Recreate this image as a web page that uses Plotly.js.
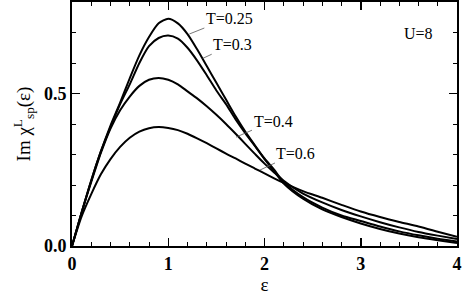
<!DOCTYPE html>
<html>
<head>
<meta charset="utf-8">
<script src="https://cdn.plot.ly/plotly-3.0.1.min.js"></script>
<style>html,body{margin:0;padding:0;background:#fff;}#chart{width:463px;height:296px;}</style>
</head>
<body>
<div id="chart"></div>
<script>
const eps = [0,0.1,0.2,0.3,0.4,0.5,0.6,0.7,0.8,0.9,1.0,1.1,1.2,1.3,1.4,1.5,1.6,1.7,1.8,1.9,2.0,2.1,2.2,2.4,2.6,2.8,3.0,3.2,3.4,3.6,3.8,4.0];
const chiT025 = [0,0.11,0.215,0.31,0.395,0.47,0.55,0.625,0.685,0.73,0.745,0.73,0.695,0.645,0.59,0.535,0.48,0.425,0.375,0.33,0.285,0.245,0.205,0.155,0.12,0.095,0.074,0.056,0.041,0.029,0.019,0.010];
const chiT03  = [0,0.11,0.215,0.31,0.39,0.465,0.53,0.60,0.655,0.682,0.69,0.68,0.65,0.608,0.56,0.51,0.465,0.415,0.37,0.328,0.287,0.25,0.21,0.16,0.126,0.10,0.082,0.064,0.048,0.035,0.024,0.015];
const chiT04  = [0,0.11,0.21,0.305,0.385,0.445,0.49,0.525,0.545,0.551,0.545,0.53,0.507,0.484,0.458,0.43,0.40,0.368,0.335,0.302,0.27,0.241,0.214,0.172,0.143,0.118,0.097,0.078,0.061,0.046,0.034,0.023];
const chiT06  = [0,0.097,0.17,0.235,0.285,0.325,0.355,0.375,0.386,0.39,0.387,0.38,0.368,0.353,0.337,0.32,0.303,0.287,0.27,0.254,0.238,0.222,0.207,0.18,0.158,0.135,0.113,0.095,0.079,0.064,0.047,0.030];
const seriesNames = ['T=0.25','T=0.3','T=0.4','T=0.6'];
const xTickVals = [0,1,2,3,4];
const xTickText = ['0','1','2','3','4'];
const yTickVals = [0,0.5];
const yTickText = ['0.0','0.5'];

const serif = 'Liberation Serif';
const allY = [chiT025, chiT03, chiT04, chiT06];
const traces = allY.map((ys, i) => ({
  x: eps, y: ys, type: 'scatter', mode: 'lines', name: seriesNames[i],
  line: {color: '#000', width: 2, shape: 'spline', smoothing: 0.7}
}));

const labelDefs = [
  {text: 'T=0.25', x: 1.219, y: 0.695, ax: 40, ay: -16},
  {text: 'T=0.3', x: 1.358, y: 0.615, ax: 30, ay: -14},
  {text: 'T=0.4', x: 1.704, y: 0.357, ax: 37, ay: -16},
  {text: 'T=0.6', x: 1.953, y: 0.249, ax: 36, ay: -17}
];
const annotations = labelDefs.map(d => ({
  text: d.text, x: d.x, y: d.y, xref: 'x', yref: 'y', ax: d.ax, ay: d.ay,
  showarrow: true, arrowhead: 0, arrowwidth: 0.8, arrowcolor: '#555',
  font: {family: serif, size: 16, color: '#000'}
}));
annotations.push({text: 'U=8', x: 3.595, y: 0.698, xref: 'x', yref: 'y', showarrow: false,
  font: {family: serif, size: 16, color: '#000'}});

const axisCommon = {
  showline: true, linecolor: '#000', linewidth: 2, mirror: 'allticks',
  ticks: 'inside', ticklen: 8, tickwidth: 1.5, tickcolor: '#000',
  showgrid: false, zeroline: false,
  tickfont: {family: serif, size: 18, color: '#000', weight: 'bold'}
};

const layout = {
  width: 463, height: 296,
  margin: {l: 72, r: 6, t: 2, b: 50},
  paper_bgcolor: '#fff', plot_bgcolor: '#fff',
  showlegend: false,
  xaxis: Object.assign({}, axisCommon, {
    range: [0, 4], tickvals: xTickVals, ticktext: xTickText,
    minor: {dtick: 0.2, ticks: 'inside', ticklen: 4, tickwidth: 1, tickcolor: '#000'},
    title: {text: 'ε', font: {family: serif, size: 19, color: '#000'}, standoff: 4}
  }),
  yaxis: Object.assign({}, axisCommon, {
    range: [0, 0.8], tickvals: yTickVals, ticktext: yTickText,
    minor: {dtick: 0.1, ticks: 'inside', ticklen: 4, tickwidth: 1, tickcolor: '#000'},
    title: {text: 'Im χ<sup>L</sup><sub>sp</sub>(ε)', font: {family: serif, size: 19, color: '#000'}, standoff: 8}
  }),
  annotations: annotations
};

Plotly.newPlot('chart', traces, layout, {staticPlot: true, displayModeBar: false});
</script>
</body>
</html>
